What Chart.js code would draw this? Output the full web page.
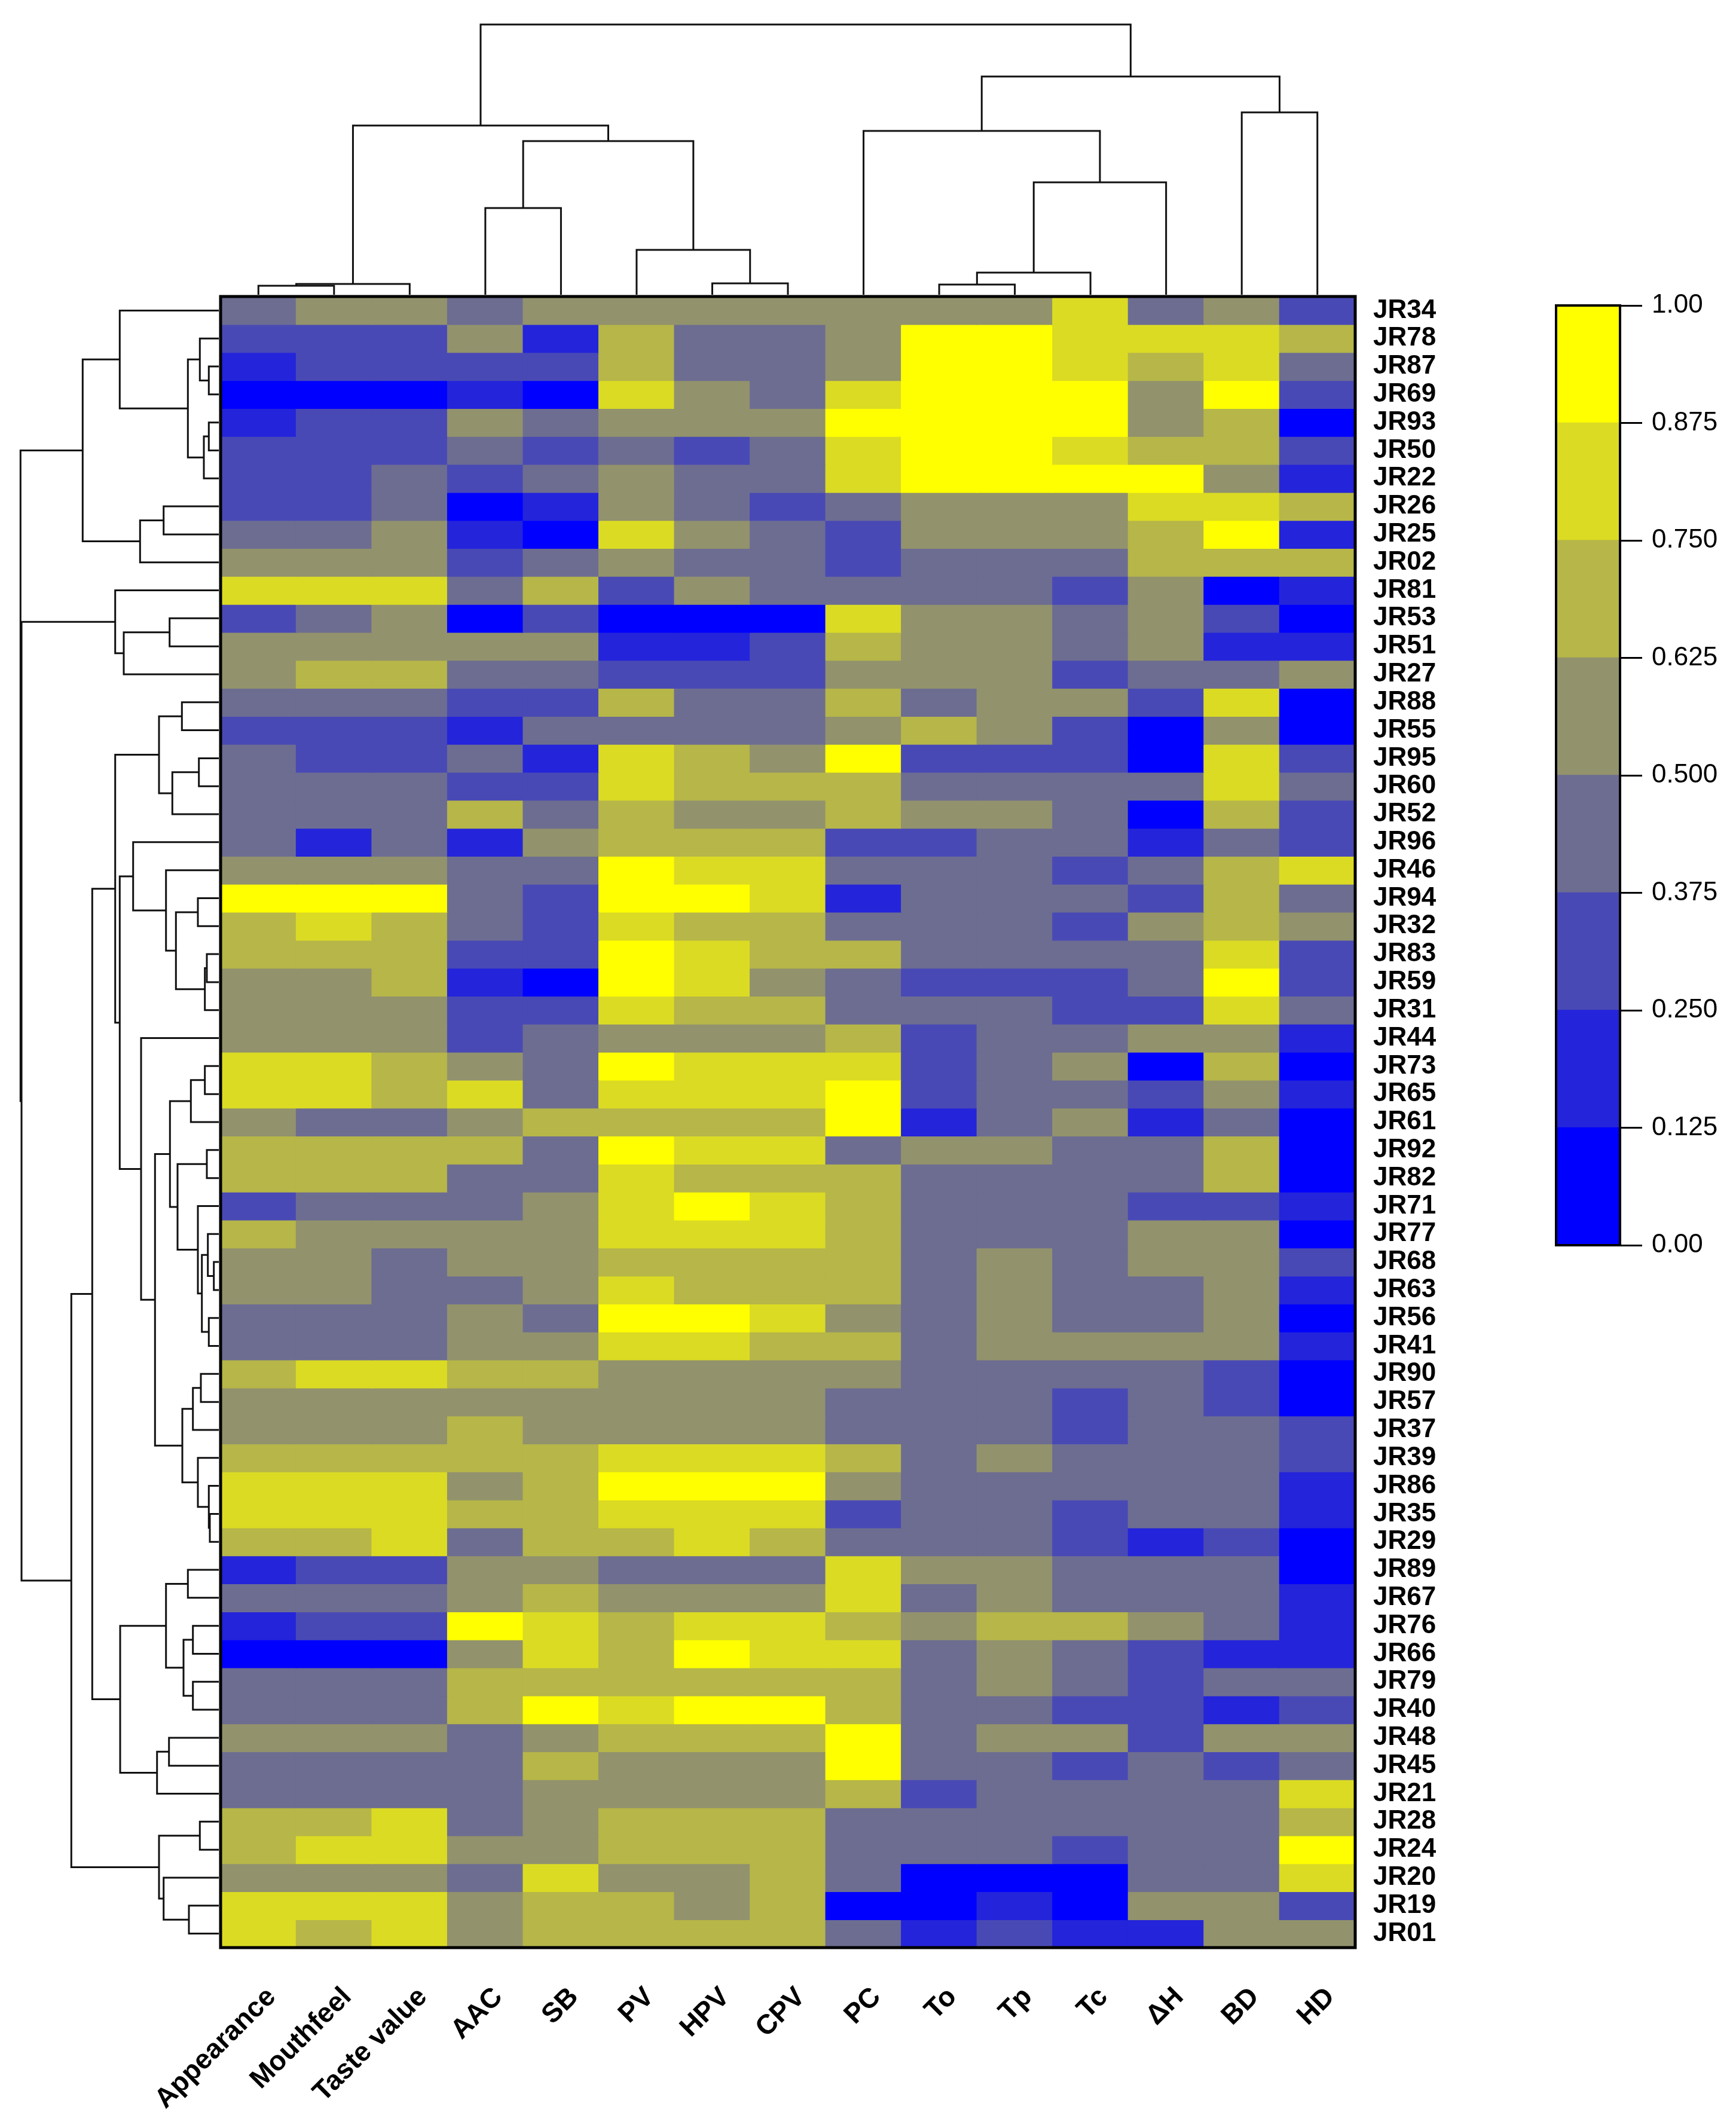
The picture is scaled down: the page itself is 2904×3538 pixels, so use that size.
<!DOCTYPE html>
<html><head><meta charset="utf-8">
<script src="https://cdn.jsdelivr.net/npm/chart.js@4.4.1/dist/chart.umd.min.js"></script>
<style>
html,body{margin:0;padding:0;background:#fff;}
#wrap{position:relative;width:2904px;height:3538px;background:#fff;}
#wrap canvas{position:absolute;left:0;top:0;}
</style></head><body>
<div id="wrap">
<canvas id="heat" width="2904" height="3538"></canvas>
<canvas id="topDendro" width="2904" height="3538"></canvas>
<canvas id="leftDendro" width="2904" height="3538"></canvas>
<canvas id="key" width="2904" height="3538"></canvas>
</div>
<script>
// ---------------- data ----------------
const columns = ['Appearance','Mouthfeel','Taste value','AAC','SB','PV','HPV','CPV','PC','To','Tp','Tc','\u0394H','BD','HD'];
const rows = ['JR34','JR78','JR87','JR69','JR93','JR50','JR22','JR26','JR25','JR02','JR81','JR53','JR51','JR27','JR88',
  'JR55','JR95','JR60','JR52','JR96','JR46','JR94','JR32','JR83','JR59','JR31','JR44','JR73','JR65','JR61',
  'JR92','JR82','JR71','JR77','JR68','JR63','JR56','JR41','JR90','JR57','JR37','JR39','JR86','JR35','JR29',
  'JR89','JR67','JR76','JR66','JR79','JR40','JR48','JR45','JR21','JR28','JR24','JR20','JR19','JR01'];
const values = [
  [0.44,0.56,0.56,0.44,0.56,0.56,0.56,0.56,0.56,0.56,0.56,0.81,0.44,0.56,0.31],
  [0.31,0.31,0.31,0.56,0.19,0.69,0.44,0.44,0.56,0.94,0.94,0.81,0.81,0.81,0.69],
  [0.19,0.31,0.31,0.31,0.31,0.69,0.44,0.44,0.56,0.94,0.94,0.81,0.69,0.81,0.44],
  [0.06,0.06,0.06,0.19,0.06,0.81,0.56,0.44,0.81,0.94,0.94,0.94,0.56,0.94,0.31],
  [0.19,0.31,0.31,0.56,0.44,0.56,0.56,0.56,0.94,0.94,0.94,0.94,0.56,0.69,0.06],
  [0.31,0.31,0.31,0.44,0.31,0.44,0.31,0.44,0.81,0.94,0.94,0.81,0.69,0.69,0.31],
  [0.31,0.31,0.44,0.31,0.44,0.56,0.44,0.44,0.81,0.94,0.94,0.94,0.94,0.56,0.19],
  [0.31,0.31,0.44,0.06,0.19,0.56,0.44,0.31,0.44,0.56,0.56,0.56,0.81,0.81,0.69],
  [0.44,0.44,0.56,0.19,0.06,0.81,0.56,0.44,0.31,0.56,0.56,0.56,0.69,0.94,0.19],
  [0.56,0.56,0.56,0.31,0.44,0.56,0.44,0.44,0.31,0.44,0.44,0.44,0.69,0.69,0.69],
  [0.81,0.81,0.81,0.44,0.69,0.31,0.56,0.44,0.44,0.44,0.44,0.31,0.56,0.06,0.19],
  [0.31,0.44,0.56,0.06,0.31,0.06,0.06,0.06,0.81,0.56,0.56,0.44,0.56,0.31,0.06],
  [0.56,0.56,0.56,0.56,0.56,0.19,0.19,0.31,0.69,0.56,0.56,0.44,0.56,0.19,0.19],
  [0.56,0.69,0.69,0.44,0.44,0.31,0.31,0.31,0.56,0.56,0.56,0.31,0.44,0.44,0.56],
  [0.44,0.44,0.44,0.31,0.31,0.69,0.44,0.44,0.69,0.44,0.56,0.56,0.31,0.81,0.06],
  [0.31,0.31,0.31,0.19,0.44,0.44,0.44,0.44,0.56,0.69,0.56,0.31,0.06,0.56,0.06],
  [0.44,0.31,0.31,0.44,0.19,0.81,0.69,0.56,0.94,0.31,0.31,0.31,0.06,0.81,0.31],
  [0.44,0.44,0.44,0.31,0.31,0.81,0.69,0.69,0.69,0.44,0.44,0.44,0.44,0.81,0.44],
  [0.44,0.44,0.44,0.69,0.44,0.69,0.56,0.56,0.69,0.56,0.56,0.44,0.06,0.69,0.31],
  [0.44,0.19,0.44,0.19,0.56,0.69,0.69,0.69,0.31,0.31,0.44,0.44,0.19,0.44,0.31],
  [0.56,0.56,0.56,0.44,0.44,0.94,0.81,0.81,0.44,0.44,0.44,0.31,0.44,0.69,0.81],
  [0.94,0.94,0.94,0.44,0.31,0.94,0.94,0.81,0.19,0.44,0.44,0.44,0.31,0.69,0.44],
  [0.69,0.81,0.69,0.44,0.31,0.81,0.69,0.69,0.44,0.44,0.44,0.31,0.56,0.69,0.56],
  [0.69,0.69,0.69,0.31,0.31,0.94,0.81,0.69,0.69,0.44,0.44,0.44,0.44,0.81,0.31],
  [0.56,0.56,0.69,0.19,0.06,0.94,0.81,0.56,0.44,0.31,0.31,0.31,0.44,0.94,0.31],
  [0.56,0.56,0.56,0.31,0.31,0.81,0.69,0.69,0.44,0.44,0.44,0.31,0.31,0.81,0.44],
  [0.56,0.56,0.56,0.31,0.44,0.56,0.56,0.56,0.69,0.31,0.44,0.44,0.56,0.56,0.19],
  [0.81,0.81,0.69,0.56,0.44,0.94,0.81,0.81,0.81,0.31,0.44,0.56,0.06,0.69,0.06],
  [0.81,0.81,0.69,0.81,0.44,0.81,0.81,0.81,0.94,0.31,0.44,0.44,0.31,0.56,0.19],
  [0.56,0.44,0.44,0.56,0.69,0.69,0.69,0.69,0.94,0.19,0.44,0.56,0.19,0.44,0.06],
  [0.69,0.69,0.69,0.69,0.44,0.94,0.81,0.81,0.44,0.56,0.56,0.44,0.44,0.69,0.06],
  [0.69,0.69,0.69,0.44,0.44,0.81,0.69,0.69,0.69,0.44,0.44,0.44,0.44,0.69,0.06],
  [0.31,0.44,0.44,0.44,0.56,0.81,0.94,0.81,0.69,0.44,0.44,0.44,0.31,0.31,0.19],
  [0.69,0.56,0.56,0.56,0.56,0.81,0.81,0.81,0.69,0.44,0.44,0.44,0.56,0.56,0.06],
  [0.56,0.56,0.44,0.56,0.56,0.69,0.69,0.69,0.69,0.44,0.56,0.44,0.56,0.56,0.31],
  [0.56,0.56,0.44,0.44,0.56,0.81,0.69,0.69,0.69,0.44,0.56,0.44,0.44,0.56,0.19],
  [0.44,0.44,0.44,0.56,0.44,0.94,0.94,0.81,0.56,0.44,0.56,0.44,0.44,0.56,0.06],
  [0.44,0.44,0.44,0.56,0.56,0.81,0.81,0.69,0.69,0.44,0.56,0.56,0.56,0.56,0.19],
  [0.69,0.81,0.81,0.69,0.69,0.56,0.56,0.56,0.56,0.44,0.44,0.44,0.44,0.31,0.06],
  [0.56,0.56,0.56,0.56,0.56,0.56,0.56,0.56,0.44,0.44,0.44,0.31,0.44,0.31,0.06],
  [0.56,0.56,0.56,0.69,0.56,0.56,0.56,0.56,0.44,0.44,0.44,0.31,0.44,0.44,0.31],
  [0.69,0.69,0.69,0.69,0.69,0.81,0.81,0.81,0.69,0.44,0.56,0.44,0.44,0.44,0.31],
  [0.81,0.81,0.81,0.56,0.69,0.94,0.94,0.94,0.56,0.44,0.44,0.44,0.44,0.44,0.19],
  [0.81,0.81,0.81,0.69,0.69,0.81,0.81,0.81,0.31,0.44,0.44,0.31,0.44,0.44,0.19],
  [0.69,0.69,0.81,0.44,0.69,0.69,0.81,0.69,0.44,0.44,0.44,0.31,0.19,0.31,0.06],
  [0.19,0.31,0.31,0.56,0.56,0.44,0.44,0.44,0.81,0.56,0.56,0.44,0.44,0.44,0.06],
  [0.44,0.44,0.44,0.56,0.69,0.56,0.56,0.56,0.81,0.44,0.56,0.44,0.44,0.44,0.19],
  [0.19,0.31,0.31,0.94,0.81,0.69,0.81,0.81,0.69,0.56,0.69,0.69,0.56,0.44,0.19],
  [0.06,0.06,0.06,0.56,0.81,0.69,0.94,0.81,0.81,0.44,0.56,0.44,0.31,0.19,0.19],
  [0.44,0.44,0.44,0.69,0.69,0.69,0.69,0.69,0.69,0.44,0.56,0.44,0.31,0.44,0.44],
  [0.44,0.44,0.44,0.69,0.94,0.81,0.94,0.94,0.69,0.44,0.44,0.31,0.31,0.19,0.31],
  [0.56,0.56,0.56,0.44,0.56,0.69,0.69,0.69,0.94,0.44,0.56,0.56,0.31,0.56,0.56],
  [0.44,0.44,0.44,0.44,0.69,0.56,0.56,0.56,0.94,0.44,0.44,0.31,0.44,0.31,0.44],
  [0.44,0.44,0.44,0.44,0.56,0.56,0.56,0.56,0.69,0.31,0.44,0.44,0.44,0.44,0.81],
  [0.69,0.69,0.81,0.44,0.56,0.69,0.69,0.69,0.44,0.44,0.44,0.44,0.44,0.44,0.69],
  [0.69,0.81,0.81,0.56,0.56,0.69,0.69,0.69,0.44,0.44,0.44,0.31,0.44,0.44,0.94],
  [0.56,0.56,0.56,0.44,0.81,0.56,0.56,0.69,0.44,0.06,0.06,0.06,0.44,0.44,0.81],
  [0.81,0.81,0.81,0.56,0.69,0.69,0.56,0.69,0.06,0.06,0.19,0.06,0.56,0.56,0.31],
  [0.81,0.69,0.81,0.56,0.69,0.69,0.69,0.69,0.44,0.19,0.31,0.19,0.19,0.56,0.56]
];
// column clustering (hclust style: negative = leaf in display order, positive = earlier merge)
const colMerges = [[-1,-2],[1,-3],[-4,-5],[-7,-8],[-6,4],[3,5],[2,6],[-10,-11],[8,-12],[9,-13],[-9,10],[-14,-15],[11,12],[7,13]];
const colHeights = [15,18,145,19,75,257,283,17,37,188,274,305,365,452];
// row clustering
const rowMerges = [[-3,-4],[-2,1],[-5,-6],[3,-7],[2,4],[-1,5],[-8,-9],[7,-10],[6,8],[-12,-13],
  [10,-14],[-11,11],[-15,-16],[-17,-18],[14,-19],[13,15],[-22,-23],[-24,-25],[18,-26],[17,19],
  [-21,20],[-20,21],[-28,-29],[23,-30],[-31,-32],[-35,-36],[-34,26],[-37,-38],[27,28],[-33,29],
  [25,30],[24,31],[-39,-40],[33,-41],[-44,-45],[-43,35],[-42,36],[34,37],[32,38],[-27,39],
  [22,40],[16,41],[-46,-47],[-48,-49],[-50,-51],[44,45],[43,46],[-52,-53],[48,-54],[47,49],
  [42,50],[-55,-56],[-58,-59],[-57,53],[52,54],[51,55],[12,56],[9,57]];
const rowHeights = [16.7,31.7,16.7,25,51.7,165.7,92.3,131.7,227.7,82.3,
  159,173.3,61.7,33.3,77.7,100,35,20,23.3,71.7,
  88.3,143.3,23.3,46.7,20,8.3,18.3,16.7,28.3,35,
  69,81.7,30,43.3,15,16.7,35,61,106.7,130,
  165.7,173.3,51.7,43.3,43.3,59,88.3,83.3,103.3,165,
  211.7,31.7,50,92.3,100,246.7,330,331.7];
const keyBreaks = [0,0.125,0.25,0.375,0.5,0.625,0.75,0.875,1];
const palette = ['#0000FF','#2424DB','#4949B6','#6D6D92','#92926D','#B6B649','#DBDB24','#FFFF00'];

// ---------------- helpers ----------------
Chart.defaults.animation = false;
const FONT = "'Liberation Sans', Arial, Helvetica, sans-serif";
function colorOf(v){ let k = 0; while (k < palette.length - 1 && v >= keyBreaks[k+1]) k++; return palette[k]; }
const framePlugin = {
  id: 'frame',
  afterDatasetsDraw(chart, args, opts){
    if (!opts || !opts.width) return;
    const a = chart.chartArea, ctx = chart.ctx;
    ctx.save(); ctx.strokeStyle = opts.color || '#000'; ctx.lineWidth = opts.width;
    ctx.strokeRect(a.left, a.top, a.right - a.left, a.bottom - a.top); ctx.restore();
  }
};
function dendroLines(merges, heights){
  const pos = [], hgt = [], out = [];
  const p = c => c < 0 ? (-c - 1) + 0.5 : pos[c - 1];
  const h = c => c < 0 ? 0 : hgt[c - 1];
  merges.forEach(([a, b], k) => {
    const pa = p(a), pb = p(b), H = heights[k];
    pos[k] = (pa + pb) / 2; hgt[k] = H;
    out.push([[pa, h(a)], [pa, H], [pb, H], [pb, h(b)]]);
  });
  return out;
}
const W = 2904, Hh = 3538;
const HM = { left: 369, right: 2267, top: 496, bottom: 3258 };

// ---------------- heatmap ----------------
new Chart(document.getElementById('heat'), {
  type: 'bar',
  plugins: [framePlugin],
  data: {
    labels: columns,
    datasets: rows.map((r, i) => ({
      label: r,
      data: values[i].map(() => [i, i + 1]),
      backgroundColor: values[i].map(colorOf),
      borderWidth: 0, grouped: false, barPercentage: 1, categoryPercentage: 1, inflateAmount: 0.7,
      xAxisID: 'x', yAxisID: 'y'
    }))
  },
  options: {
    responsive: false, devicePixelRatio: 1, animation: false,
    layout: { padding: { left: HM.left, top: HM.top, right: W - HM.right - 230, bottom: Hh - HM.bottom - 270 } },
    plugins: { legend: { display: false }, tooltip: { enabled: false }, frame: { width: 5, color: '#000' } },
    scales: {
      x: { type: 'category', position: 'bottom', offset: true,
        grid: { display: false }, border: { display: false },
        ticks: { autoSkip: false, minRotation: 45, maxRotation: 45, padding: 48, labelOffset: 22,
          color: '#000', font: { family: FONT, size: 46, weight: 'bold' } },
        afterFit(s){ s.height = 270; } },
      y: { type: 'linear', min: 0, max: rows.length, reverse: true, display: false },
      yLab: { type: 'category', labels: rows, position: 'right', offset: true,
        grid: { display: false }, border: { display: false },
        ticks: { autoSkip: false, padding: 22, color: '#000', font: { family: FONT, size: 44, weight: 'bold' } },
        afterFit(s){ s.width = 230; } }
    }
  }
});

// ---------------- column dendrogram ----------------
new Chart(document.getElementById('topDendro'), {
  type: 'scatter',
  data: { datasets: dendroLines(colMerges, colHeights).map(seg => ({
    data: seg.map(([x, y]) => ({ x, y })), showLine: true, borderColor: '#111', borderWidth: 3,
    pointRadius: 0, fill: false, clip: false, borderJoinStyle: 'miter' })) },
  options: {
    responsive: false, devicePixelRatio: 1, animation: false,
    layout: { padding: { left: HM.left, right: W - HM.right, top: 33, bottom: Hh - 493 } },
    plugins: { legend: { display: false }, tooltip: { enabled: false } },
    scales: {
      x: { type: 'linear', min: 0, max: columns.length, display: false },
      y: { type: 'linear', min: 0, max: 460, display: false }
    }
  }
});

// ---------------- row dendrogram ----------------
new Chart(document.getElementById('leftDendro'), {
  type: 'scatter',
  data: { datasets: dendroLines(rowMerges, rowHeights).map(seg => ({
    data: seg.map(([y, x]) => ({ x, y })), showLine: true, borderColor: '#111', borderWidth: 3,
    pointRadius: 0, fill: false, clip: false, borderJoinStyle: 'miter' })) },
  options: {
    responsive: false, devicePixelRatio: 1, animation: false,
    layout: { padding: { left: 31, right: W - 366, top: HM.top, bottom: Hh - HM.bottom } },
    plugins: { legend: { display: false }, tooltip: { enabled: false } },
    scales: {
      x: { type: 'linear', min: 0, max: 335, reverse: true, display: false },
      y: { type: 'linear', min: 0, max: rows.length, reverse: true, display: false }
    }
  }
});

// ---------------- colour key ----------------
new Chart(document.getElementById('key'), {
  type: 'bar',
  plugins: [framePlugin],
  data: { labels: ['key'], datasets: palette.map((c, k) => ({
    data: [[keyBreaks[k], keyBreaks[k + 1]]], backgroundColor: c, borderWidth: 0,
    grouped: false, barPercentage: 1, categoryPercentage: 1, inflateAmount: 0.7 })) },
  options: {
    responsive: false, devicePixelRatio: 1, animation: false,
    layout: { padding: { left: 2603, top: 511, right: W - 2710 - 190, bottom: Hh - 2083 } },
    plugins: { legend: { display: false }, tooltip: { enabled: false }, frame: { width: 4, color: '#000' } },
    scales: {
      x: { display: false },
      y: { type: 'linear', position: 'right', min: 0, max: 1,
        grid: { display: true, drawOnChartArea: false, drawTicks: true, tickLength: 37, color: '#000', lineWidth: 3 },
        border: { display: false },
        ticks: { stepSize: 0.125, padding: 16, color: '#000', font: { family: FONT, size: 44 },
          callback: v => (v === 0 || v === 1) ? v.toFixed(2) : v.toFixed(3) },
        afterFit(s){ s.width = 190; } }
    }
  }
});
</script>
</body></html>
